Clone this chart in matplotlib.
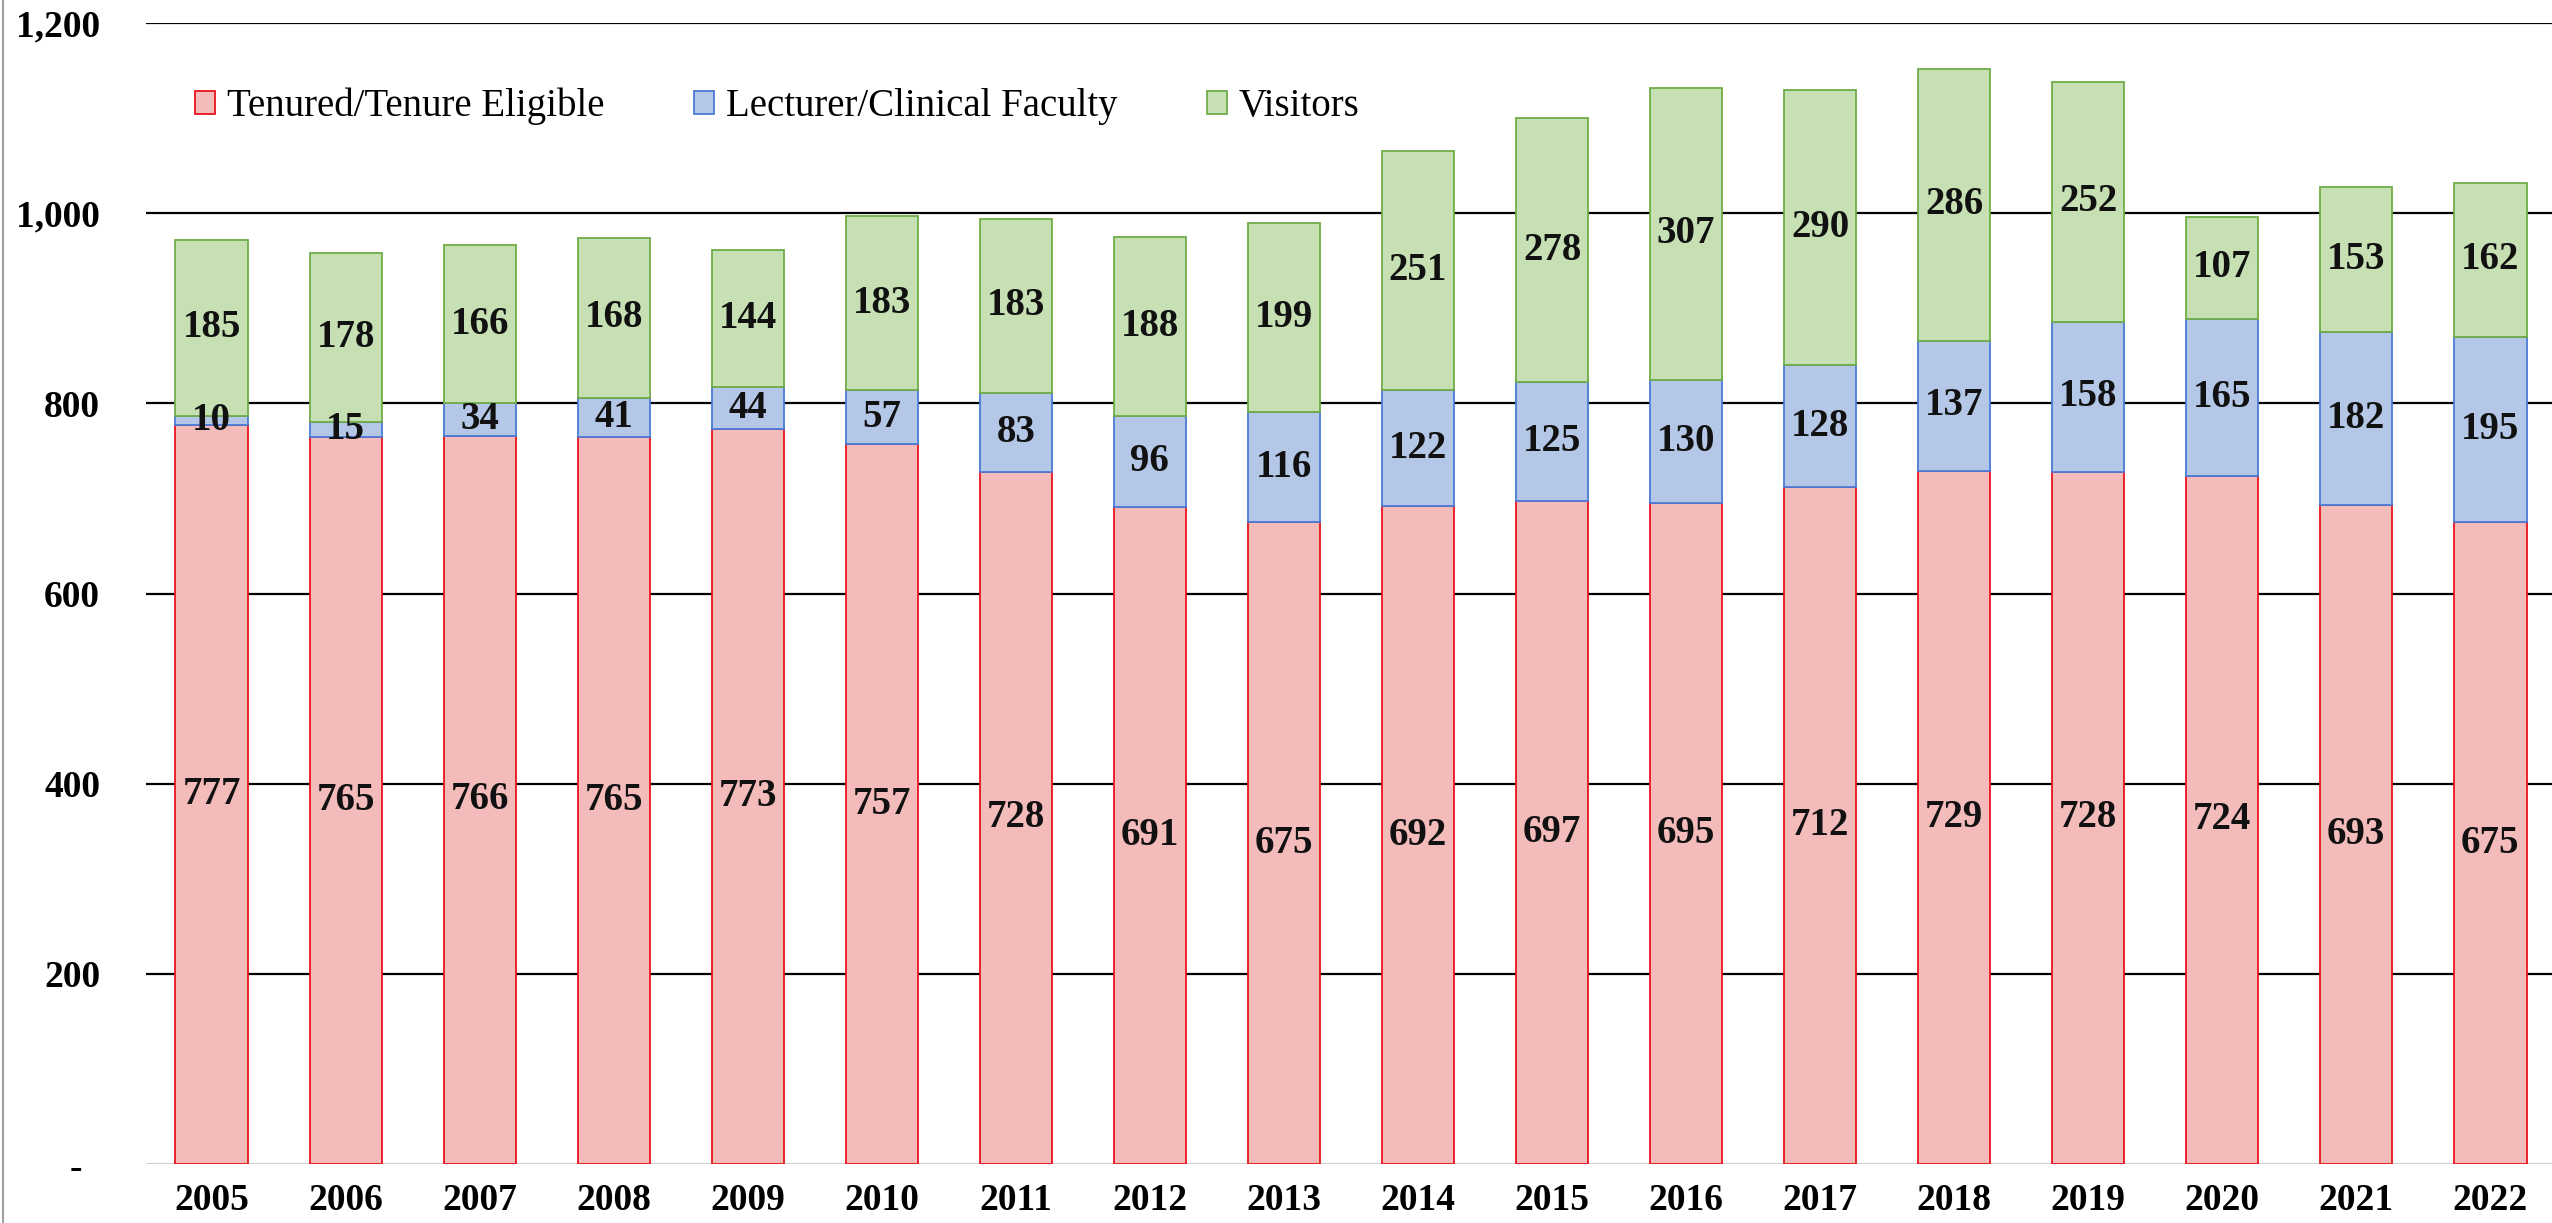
import matplotlib.pyplot as plt
from matplotlib.transforms import ScaledTranslation
import numpy as np

years = ['2005', '2006', '2007', '2008', '2009', '2010', '2011', '2012', '2013',
         '2014', '2015', '2016', '2017', '2018', '2019', '2020', '2021', '2022']
tenured = [777, 765, 766, 765, 773, 757, 728, 691, 675, 692, 697, 695, 712, 729, 728, 724, 693, 675]
lecturer = [10, 15, 34, 41, 44, 57, 83, 96, 116, 122, 125, 130, 128, 137, 158, 165, 182, 195]
visitors = [185, 178, 166, 168, 144, 183, 183, 188, 199, 251, 278, 307, 290, 286, 252, 107, 153, 162]
series_names = ['Tenured/Tenure Eligible', 'Lecturer/Clinical Faculty', 'Visitors']
yticks = [0, 200, 400, 600, 800, 1000, 1200]
ytick_labels = ['-', '200', '400', '600', '800', '1,000', '1,200']

fills = ['#F4BBBB', '#B4C7E7', '#C6E0B4']
edges = ['#E8141C', '#4A7BD8', '#70AD47']
serif = 'Liberation Serif'

fig = plt.figure(figsize=(25.52, 12.23), dpi=100)
ax = fig.add_axes([0.0572, 0.0482, 0.9428, 0.933])

x = np.arange(len(years))
w = 0.54
bottom = np.zeros(len(years))
for vals, name, fc, ec in zip([tenured, lecturer, visitors], series_names, fills, edges):
    vals = np.array(vals)
    ax.bar(x, vals, w, bottom=bottom, color=fc, edgecolor=ec, linewidth=1.3,
           label=name, zorder=2)
    for xi, b, v in zip(x, bottom, vals):
        ax.text(xi, b + v / 2, str(v), ha='center', va='center', fontsize=28,
                fontweight='bold', family=serif, color='#111111', zorder=3)
    bottom = bottom + vals

# gridlines
for t in yticks[1:]:
    ax.axhline(t, color='black', lw=1.6, zorder=1)
ax.axhline(0, color='#d0d0d0', lw=1.5, zorder=1)

ax.set_xlim(-0.49, 17.46)
ax.set_ylim(0, 1200)
for s in ax.spines.values():
    s.set_visible(False)

ax.set_xticks(x)
ax.set_xticklabels(years, fontsize=27, fontweight='bold', family=serif)
ax.set_yticks(yticks)
ax.set_yticklabels(ytick_labels, fontsize=27, fontweight='bold', family=serif)
ax.tick_params(axis='both', length=0)
ax.tick_params(axis='x', pad=14)
ax.tick_params(axis='y', pad=33)
zero_lbl = ax.get_yticklabels()[0]
zero_lbl.set_transform(zero_lbl.get_transform() + ScaledTranslation(-0.18, 0, fig.dpi_scale_trans))

ax.legend(loc='upper left', bbox_to_anchor=(0.014, 0.957), ncol=3, frameon=False,
          prop={'family': serif, 'size': 28}, handlelength=0.52, handleheight=0.52,
          handletextpad=0.3, columnspacing=2.3, borderaxespad=0)

# left border of chart area
fig.add_artist(plt.Line2D([0.0012, 0.0012], [0, 1], color='#a0a0a0', lw=1.5))

fig.savefig('out.png', dpi=100, facecolor='white')
